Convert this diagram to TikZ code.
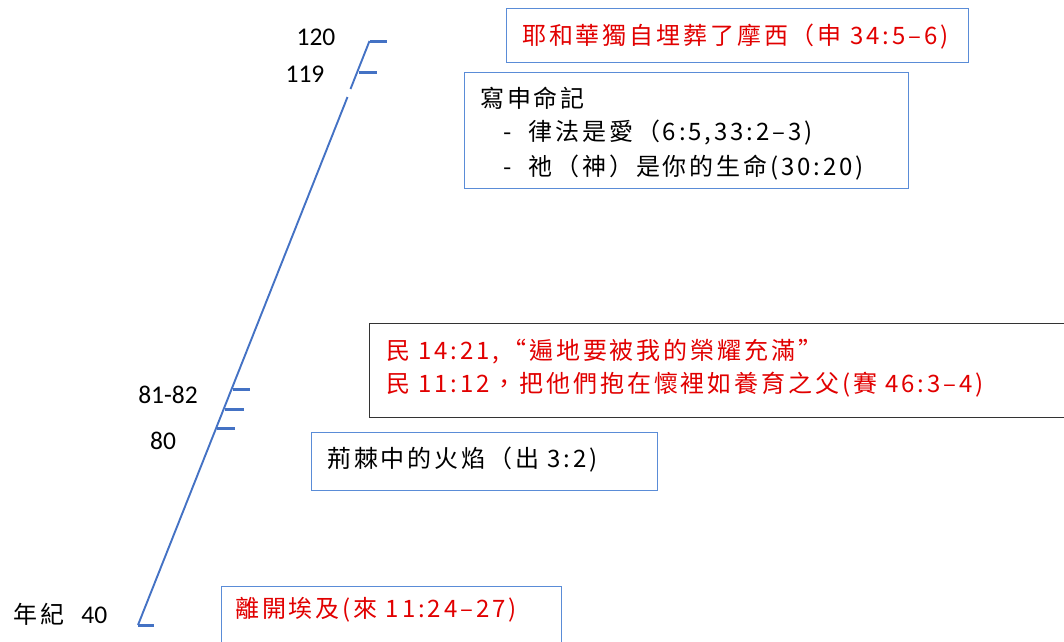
\documentclass[tikz,border=0pt]{standalone}
\usepackage{fontspec}
\setmainfont{Carlito}
\newfontfamily\cjk[LetterSpace=12]{Noto Sans CJK TC}
\newfontfamily\num{Carlito}
\definecolor{lineblue}{RGB}{68,114,196}
\definecolor{boxblue}{RGB}{90,140,215}
\definecolor{txtred}{RGB}{225,0,0}
\tikzset{
  tl/.style={draw=lineblue, line width=1.9pt},
  tick/.style={draw=lineblue, line width=3pt},
  box/.style={draw=boxblue, line width=1.4pt, anchor=north west, inner sep=0pt},
  blackbox/.style={draw=black!80, line width=1.2pt, anchor=north west, inner sep=0pt},
  age/.style={font=\num\fontsize{25.5}{28}\selectfont, text=black, inner sep=0pt},
  txt/.style={anchor=west, inner sep=0pt, font=\cjk\fontsize{24}{34}\selectfont, align=left},
}
\begin{document}
\begin{tikzpicture}[x=1pt,y=-1pt]
\useasboundingbox (0,0) rectangle (1064,641);
% timeline
\coordinate (bot) at (138,625);
\coordinate (botr) at (154,625);
\coordinate (gapl) at (347.5,97);
\coordinate (gaph) at (350.5,89);
\coordinate (top) at (369.5,41);
\coordinate (topr) at (387,41);
\coordinate (t119) at (358.5,72.5);
\coordinate (t119r) at (377,72.5);
\coordinate (t82) at (232.5,389);
\coordinate (t82r) at (250,389);
\coordinate (t81) at (224.5,409);
\coordinate (t81r) at (244,409);
\coordinate (t80) at (216.5,428);
\coordinate (t80r) at (235,428);
\draw[tl] (bot) -- (gapl);
\draw[tl] (gaph) -- (top);
\draw[tick] (bot) -- (botr);
\draw[tick] (top) -- (topr);
\draw[tick] (t119) -- (t119r);
\draw[tick] (t82) -- (t82r);
\draw[tick] (t81) -- (t81r);
\draw[tick] (t80) -- (t80r);
% age labels
\node[age] (l120) at (316,37) {120};
\node[age] (l119) at (305,74) {119};
\node[age] (l8182) at (168,395) {81-82};
\node[age] (l80) at (163,441) {80};
\node[age, anchor=west] (l40) at (13,614) {{\cjk\fontsize{24}{28}\selectfont 年紀}\ \ \ 40};
% boxes
\node[box, minimum width=462pt, minimum height=54pt] (b1) at (506,8) {};
\node[txt, text=txtred] (t1) at (522,37) {耶和華獨自埋葬了摩西（申 34:5–6)};
\node[box, minimum width=444pt, minimum height=116pt] (b2) at (464,72) {};
\node[txt] (t2a) at (480,98) {寫申命記};
\node[txt] (t2b) at (503,133) {-\hspace{17pt}律法是愛（6:5,33:2–3)};
\node[txt] (t2c) at (503,168) {-\hspace{17pt}祂（神）是你的生命(30:20)};
\node[blackbox, minimum width=720pt, minimum height=94pt] (b3) at (369,323) {};
\node[txt, text=txtred] (t3a) at (386,352) {民 14:21,“遍地要被我的榮耀充滿”};
\node[txt, text=txtred] (t3b) at (386,385) {民 11:12，把他們抱在懷裡如養育之父(賽 46:3–4)};
\node[box, minimum width=346pt, minimum height=58pt] (b4) at (311,432) {};
\node[txt] (t4) at (327,460) {荊棘中的火焰（出 3:2)};
\node[box, minimum width=340pt, minimum height=70pt] (b5) at (221,586) {};
\node[txt, text=txtred] (t5) at (235,610) {離開埃及(來 11:24–27)};
\end{tikzpicture}
\end{document}
